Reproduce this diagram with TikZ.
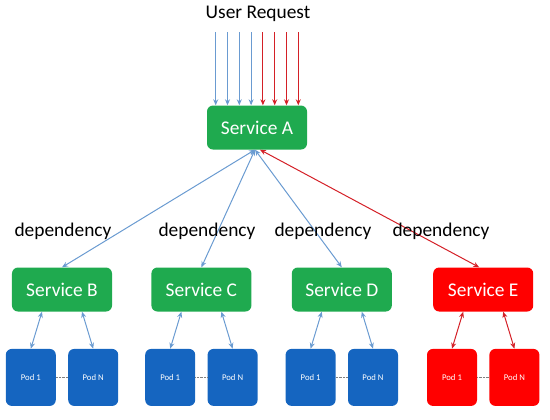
\documentclass[tikz,border=0pt]{standalone}
\usepackage{fontspec}
\setmainfont{Carlito}
\usetikzlibrary{positioning}
\usetikzlibrary{arrows.meta}
\definecolor{svcgreen}{HTML}{1FAA4F}
\definecolor{podblue}{HTML}{1565C0}
\definecolor{linkblue}{HTML}{6A9BD1}
\definecolor{linkred}{HTML}{D42027}
\definecolor{failred}{HTML}{FF0000}

\begin{document}
\begin{tikzpicture}[x=1bp, y=-1bp, >={Stealth[length=6bp,width=5bp]}, node distance=39bp, font=\fontsize{19.4bp}{23bp}\selectfont]
    \tikzstyle{service}=[fill=svcgreen,text=white,rounded corners=6bp,minimum width=100bp,minimum height=44bp,inner sep=0pt]
    \tikzstyle{pod}=[text=white,rounded corners=6bp,minimum width=50bp,minimum height=57bp,inner sep=0pt,font=\fontsize{8.7bp}{10bp}\selectfont]
    \tikzstyle{call}=[<->, line width=1bp]

    \useasboundingbox (0,0) rectangle (550,419);

    \node (req) at (258,14) {User Request};
    \node[service] (A) at (257,127.5) {Service A};
    \node[service] (B) at (62,289.5) {Service B};
    \node[service, right=of B] (C) {Service C};
    \node[service, right=40bp of C] (D) {Service D};
    \node[service, right=41bp of D, fill=failred] (E) {Service E};

    % incoming requests
    \foreach \i/\c in {0/linkblue,1/linkblue,2/linkblue,3/linkblue,4/linkred,5/linkred,6/linkred,7/linkred} {
        \coordinate (u\i) at ({215.7+11.8*\i},32);
        \draw[->, draw=\c, line width=1bp] (u\i) -- (u\i |- A.north);
    }

    \draw[call, draw=linkblue] ([xshift=-2bp]A.south) -- (B.north);
    \draw[call, draw=linkblue] ([xshift=-2bp]A.south) -- (C.north);
    \draw[call, draw=linkblue] ([xshift=-2bp]A.south) -- (D.north);
    \draw[call, draw=linkred] ([xshift=3bp]A.south) -- ([xshift=-4bp]E.north);

    \node (dep1) at (63,231) {dependency};
    \node (dep2) at (207,231) {dependency};
    \node (dep3) at (323,231) {dependency};
    \node (dep4) at (441,231) {dependency};

    % pods of each service
    \foreach \s/\pc/\lc in {B/podblue/linkblue, C/podblue/linkblue, D/podblue/linkblue, E/failred/linkred} {
        \node[pod, fill=\pc, below left=37bp and 6bp of \s.south] (\s-1) {Pod 1};
        \node[pod, fill=\pc, below right=37bp and 6bp of \s.south] (\s-n) {Pod N};
        \draw[densely dotted, gray] (\s-1) -- (\s-n);
        \draw[call, draw=\lc] ([xshift=-20bp]\s.south) -- (\s-1.north);
        \draw[call, draw=\lc] ([xshift=20bp]\s.south) -- (\s-n.north);
    }

\end{tikzpicture}
\end{document}
